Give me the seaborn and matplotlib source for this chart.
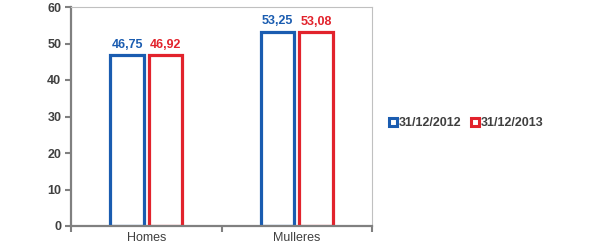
import matplotlib
matplotlib.use("Agg")
import matplotlib.pyplot as plt
import seaborn as sns
import pandas as pd
from matplotlib.patches import Patch

categories = ["Homes", "Mulleres"]
series = ["31/12/2012", "31/12/2013"]
values_2012 = [46.75, 53.25]
values_2013 = [46.92, 53.08]
colors = ["#1a5cb0", "#e2232c"]

df = pd.DataFrame({
    "cat": categories * 2,
    "serie": [series[0]] * 2 + [series[1]] * 2,
    "val": values_2012 + values_2013,
})

sns.set_theme(style="white")
plt.rcParams['font.family'] = ['Liberation Sans', 'DejaVu Sans']

fig = plt.figure(figsize=(6, 2.5), dpi=100)
ax = fig.add_axes([71/600, 24/250, 301/600, 219/250])

sns.barplot(data=df, x="cat", y="val", hue="serie", palette=colors,
            width=0.51, gap=0.13, fill=False, linewidth=2.3, ax=ax,
            legend=False, errorbar=None)

for patch_group, c in zip(ax.containers, colors):
    labels = [f"{v:.2f}".replace(".", ",") for v in patch_group.datavalues]
    ax.bar_label(patch_group, labels=labels, padding=3, color=c,
                 fontsize=9, fontweight="bold")

ax.set_ylim(0, 60)
ax.set_xlim(-0.5, 1.5)
ax.set_yticks(range(0, 61, 10))
ax.set_xlabel("")
ax.set_ylabel("")
ax.set_xticks([0, 1])
ax.set_xticklabels(categories)
ax.set_xticks([-0.5, 0.5, 1.5], minor=True)
ax.tick_params(axis="x", which="major", length=0, pad=4, labelsize=9, labelcolor="#404040")
ax.tick_params(axis="x", which="minor", length=4, width=1.5, color="#808080", direction="out", bottom=True)
ax.tick_params(axis="y", length=4, width=1.5, color="#808080", direction="out", left=True,
               labelsize=9, labelcolor="#404040", pad=3)
for t in ax.get_yticklabels():
    t.set_fontweight("bold")

for s in ["left", "bottom"]:
    ax.spines[s].set_color("#808080")
    ax.spines[s].set_linewidth(1.6)
for s in ["top", "right"]:
    ax.spines[s].set_color("#c0c0c0")
    ax.spines[s].set_linewidth(0.8)

handles = [Patch(facecolor="white", edgecolor=c, linewidth=2.2) for c in colors]
fig.legend(handles, series, loc="center left", bbox_to_anchor=(378/600, 1 - 123/250),
           ncol=2, frameon=False, handlelength=0.6, handleheight=0.6,
           handletextpad=0.15, columnspacing=0.8,
           prop={"weight": "bold", "size": 9}, labelcolor="#404040")

fig.savefig("out.png", dpi=100)
